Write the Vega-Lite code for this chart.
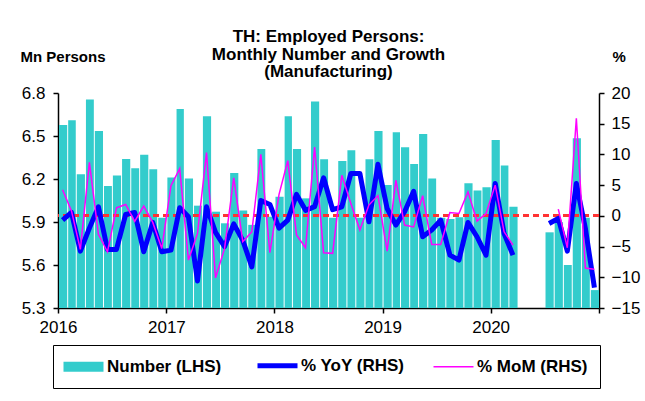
{
  "$schema": "https://vega.github.io/schema/vega-lite/v6.json",
  "width": 541,
  "height": 215,
  "autosize": {"type": "none"},
  "padding": {"left": 58, "top": 93, "right": 46, "bottom": 93},
  "background": "white",
  "title": {
    "text": ["TH: Employed Persons:", "Monthly Number and Growth", "(Manufacturing)"],
    "anchor": "middle",
    "font": "Liberation Sans",
    "fontSize": 17,
    "fontWeight": "bold",
    "lineHeight": 17.5,
    "offset": 14,
    "dy": 46,
    "color": "black"
  },
  "data": {
    "values": [
      {"date": "2016-01-01", "num": 6.577, "yoy": -0.7, "mom": 4.25},
      {"date": "2016-02-01", "num": 6.61, "yoy": 0.55, "mom": 0.8},
      {"date": "2016-03-01", "num": 6.233, "yoy": -5.75, "mom": -5.45},
      {"date": "2016-04-01", "num": 6.754, "yoy": -2.0, "mom": 8.7},
      {"date": "2016-05-01", "num": 6.535, "yoy": 1.48, "mom": -3.0},
      {"date": "2016-06-01", "num": 6.151, "yoy": -5.47, "mom": -5.85},
      {"date": "2016-07-01", "num": 6.224, "yoy": -5.47, "mom": 1.32},
      {"date": "2016-08-01", "num": 6.339, "yoy": 0.23, "mom": 1.86},
      {"date": "2016-09-01", "num": 6.275, "yoy": 0.55, "mom": -0.9},
      {"date": "2016-10-01", "num": 6.37, "yoy": -5.85, "mom": 1.6},
      {"date": "2016-11-01", "num": 6.268, "yoy": -1.07, "mom": -1.07},
      {"date": "2016-12-01", "num": 5.93, "yoy": -5.85, "mom": -5.3},
      {"date": "2017-01-01", "num": 6.21, "yoy": -5.58, "mom": 4.9},
      {"date": "2017-02-01", "num": 6.688, "yoy": 1.32, "mom": 7.7},
      {"date": "2017-03-01", "num": 6.203, "yoy": -0.15, "mom": -7.2},
      {"date": "2017-04-01", "num": 6.014, "yoy": -10.6, "mom": -2.9},
      {"date": "2017-05-01", "num": 6.637, "yoy": 1.48, "mom": 10.3},
      {"date": "2017-06-01", "num": 5.972, "yoy": -2.7, "mom": -10.1},
      {"date": "2017-07-01", "num": 5.891, "yoy": -5.0, "mom": -5.3},
      {"date": "2017-08-01", "num": 6.242, "yoy": -1.3, "mom": 6.2},
      {"date": "2017-09-01", "num": 5.981, "yoy": -4.0, "mom": -4.2},
      {"date": "2017-10-01", "num": 5.88, "yoy": -8.3, "mom": -2.6},
      {"date": "2017-11-01", "num": 6.409, "yoy": 2.5, "mom": 10.0},
      {"date": "2017-12-01", "num": 5.937, "yoy": 1.86, "mom": -6.0},
      {"date": "2018-01-01", "num": 6.077, "yoy": -2.0, "mom": 3.5},
      {"date": "2018-02-01", "num": 6.637, "yoy": -0.7, "mom": 9.0},
      {"date": "2018-03-01", "num": 6.409, "yoy": 3.5, "mom": -3.1},
      {"date": "2018-04-01", "num": 6.065, "yoy": 0.9, "mom": -5.2},
      {"date": "2018-05-01", "num": 6.74, "yoy": 1.5, "mom": 11.2},
      {"date": "2018-06-01", "num": 6.337, "yoy": 6.2, "mom": -6.0},
      {"date": "2018-07-01", "num": 5.93, "yoy": 1.0, "mom": -6.1},
      {"date": "2018-08-01", "num": 6.326, "yoy": 1.48, "mom": 6.6},
      {"date": "2018-09-01", "num": 6.4, "yoy": 6.9, "mom": 2.0},
      {"date": "2018-10-01", "num": 5.93, "yoy": 6.9, "mom": -2.3},
      {"date": "2018-11-01", "num": 6.337, "yoy": -0.96, "mom": 1.75},
      {"date": "2018-12-01", "num": 6.535, "yoy": 8.4, "mom": 3.3},
      {"date": "2019-01-01", "num": 6.158, "yoy": 1.2, "mom": -5.75},
      {"date": "2019-02-01", "num": 6.526, "yoy": -1.5, "mom": 5.8},
      {"date": "2019-03-01", "num": 6.421, "yoy": 0.67, "mom": -1.5},
      {"date": "2019-04-01", "num": 6.305, "yoy": 4.0, "mom": -1.8},
      {"date": "2019-05-01", "num": 6.514, "yoy": -3.4, "mom": 3.3},
      {"date": "2019-06-01", "num": 6.203, "yoy": -2.3, "mom": -4.66},
      {"date": "2019-07-01", "num": 5.93, "yoy": -0.7, "mom": -4.66},
      {"date": "2019-08-01", "num": 5.921, "yoy": -6.4, "mom": 0.55},
      {"date": "2019-09-01", "num": 5.933, "yoy": -7.2, "mom": 0.39},
      {"date": "2019-10-01", "num": 6.17, "yoy": -1.07, "mom": 3.9},
      {"date": "2019-11-01", "num": 6.119, "yoy": -3.4, "mom": -0.86},
      {"date": "2019-12-01", "num": 6.142, "yoy": -6.4, "mom": 0.39},
      {"date": "2020-01-01", "num": 6.472, "yoy": 5.28, "mom": 5.0},
      {"date": "2020-02-01", "num": 6.295, "yoy": -2.87, "mom": -2.6},
      {"date": "2020-03-01", "num": 6.007, "yoy": -6.4, "mom": -4.77},
      {"date": "2020-04-01", "num": null, "yoy": null, "mom": null},
      {"date": "2020-05-01", "num": null, "yoy": null, "mom": null},
      {"date": "2020-06-01", "num": null, "yoy": null, "mom": null},
      {"date": "2020-07-01", "num": 5.828, "yoy": -1.24, "mom": null},
      {"date": "2020-08-01", "num": 5.9, "yoy": -0.42, "mom": 1.1},
      {"date": "2020-09-01", "num": 5.6, "yoy": -5.75, "mom": -5.2},
      {"date": "2020-10-01", "num": 6.484, "yoy": 5.28, "mom": 15.9},
      {"date": "2020-11-01", "num": 5.93, "yoy": -2.05, "mom": -8.5},
      {"date": "2020-12-01", "num": 5.425, "yoy": -11.7, "mom": -8.7}
    ]
  },
  "layer": [
    {
      "mark": {"type": "bar", "color": "#33CCCC", "timeUnitBandSize": 0.6},
      "encoding": {
        "x": {
          "field": "date",
          "timeUnit": "utcyearmonth",
          "type": "temporal",
          "scale": {
            "type": "utc",
            "domain": [
              {"year": 2016, "month": 1, "date": 1, "utc": true},
              {"year": 2021, "month": 1, "date": 1, "utc": true}
            ]
          },
          "axis": {
            "title": null,
            "values": [
              {"year": 2016, "month": 1, "date": 1, "utc": true},
              {"year": 2017, "month": 1, "date": 1, "utc": true},
              {"year": 2018, "month": 1, "date": 1, "utc": true},
              {"year": 2019, "month": 1, "date": 1, "utc": true},
              {"year": 2020, "month": 1, "date": 1, "utc": true},
              {"year": 2021, "month": 1, "date": 1, "utc": true}
            ],
            "format": "%Y",
            "labelExpr": "datum.label == '2021' ? '' : datum.label",
            "labelFlush": false,
            "labelPadding": 6
          }
        },
        "y": {
          "field": "num",
          "type": "quantitative",
          "scale": {"domain": [5.3, 6.8], "zero": false, "nice": false},
          "axis": {
            "orient": "left",
            "values": [5.3, 5.6, 5.9, 6.2, 6.5, 6.8],
            "format": ".1f",
            "labelPadding": 8,
            "title": "Mn Persons",
            "titleAngle": 0,
            "titleX": -38,
            "titleY": -37,
            "titleAlign": "left",
            "titleBaseline": "middle",
            "titleFontSize": 15,
            "titleFontWeight": "bold",
            "titleColor": "black",
            "titleFont": "Liberation Sans"
          }
        },
        "y2": {"datum": 5.3},
        "color": {
          "datum": "Number (LHS)",
          "scale": {
            "domain": ["Number (LHS)", "% YoY (RHS)", "% MoM (RHS)"],
            "range": ["#33CCCC", "#0000FF", "#FF00FF"]
          },
          "legend": {
            "title": null,
            "orient": "none",
            "legendX": -5,
            "legendY": 252,
            "direction": "horizontal",
            "strokeColor": "black",
            "padding": 12,
            "columnPadding": 25,
            "symbolSize": 400,
            "symbolOffset": 10,
            "labelOffset": 15,
            "labelFont": "Liberation Sans",
            "labelFontSize": 17,
            "labelFontWeight": "bold",
            "labelColor": "black",
            "labelLimit": 300,
            "encode": {
              "symbols": {
                "update": {
                  "shape": {"signal": "datum.value === 'Number (LHS)' ? 'M-2,-0.5H2V0.5H-2Z' : 'M-2,0H2'"},
                  "strokeWidth": {"signal": "datum.value === 'Number (LHS)' ? 0 : (datum.value === '% YoY (RHS)' ? 5 : 1.5)"},
                  "fill": {"signal": "datum.value === 'Number (LHS)' ? '#33CCCC' : 'transparent'"},
                  "stroke": {"signal": "datum.value === 'Number (LHS)' ? '#33CCCC' : (datum.value === '% YoY (RHS)' ? '#0000FF' : '#FF00FF')"},
                  "opacity": {"value": 1}
                }
              }
            }
          }
        }
      }
    },
    {
      "layer": [
        {
          "mark": {"type": "rule", "color": "#FF3333", "strokeDash": [6, 4], "strokeWidth": 2},
          "encoding": {
            "y": {
              "datum": 0,
              "type": "quantitative",
              "scale": {"domain": [-15, 20], "zero": false, "nice": false},
              "axis": {
                "orient": "right",
                "values": [-15, -10, -5, 0, 5, 10, 15, 20],
                "labelPadding": 7,
                "labelOverlap": false,
                "title": "%",
                "titleAngle": 0,
                "titleX": 13,
                "titleY": -37,
                "titleAlign": "left",
                "titleBaseline": "middle",
                "titleFontSize": 15,
                "titleFontWeight": "bold",
                "titleColor": "black",
                "titleFont": "Liberation Sans"
              }
            }
          }
        },
        {
          "mark": {"type": "line", "strokeWidth": 5, "strokeJoin": "round"},
          "encoding": {
            "x": {"field": "date", "timeUnit": "utcyearmonth", "type": "temporal", "bandPosition": 0.5},
            "y": {"field": "yoy", "type": "quantitative", "axis": {"orient": "right", "values": [-15, -10, -5, 0, 5, 10, 15, 20], "labelOverlap": false}},
            "color": {"datum": "% YoY (RHS)"}
          }
        },
        {
          "mark": {"type": "line", "strokeWidth": 1.5},
          "encoding": {
            "x": {"field": "date", "timeUnit": "utcyearmonth", "type": "temporal", "bandPosition": 0.5},
            "y": {"field": "mom", "type": "quantitative", "axis": {"orient": "right", "values": [-15, -10, -5, 0, 5, 10, 15, 20], "labelOverlap": false}},
            "color": {"datum": "% MoM (RHS)"}
          }
        }
      ]
    }
  ],
  "resolve": {"scale": {"y": "independent"}},
  "config": {
    "font": "Liberation Sans",
    "view": {"stroke": null},
    "axis": {
      "grid": false,
      "labelFont": "Liberation Sans",
      "labelFontSize": 17,
      "labelColor": "black",
      "labelOverlap": false,
      "domainColor": "black",
      "tickColor": "black",
      "domainWidth": 1.5,
      "tickWidth": 1.5,
      "tickSize": 5
    }
  }
}
